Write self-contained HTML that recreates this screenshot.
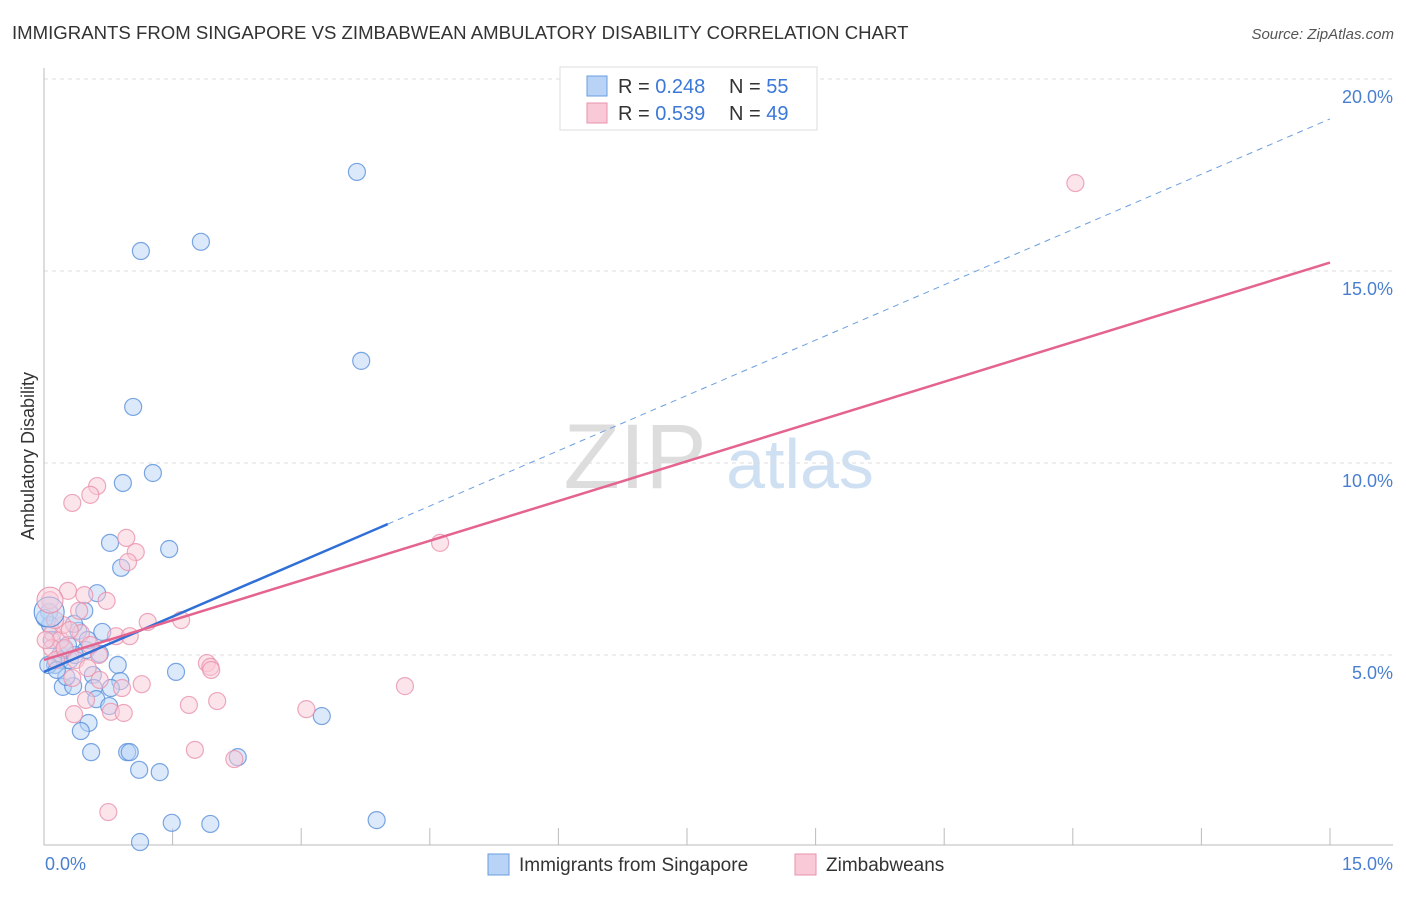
<!DOCTYPE html>
<html><head><meta charset="utf-8"><style>
body{margin:0;background:#fff;font-family:"Liberation Sans",sans-serif;}
svg text{font-family:"Liberation Sans",sans-serif;}
</style></head><body>
<svg width="1406" height="892">
<text x="12" y="39" font-size="18.6" fill="#333">IMMIGRANTS FROM SINGAPORE VS ZIMBABWEAN AMBULATORY DISABILITY CORRELATION CHART</text>
<text x="1394" y="39" font-size="15" fill="#555" text-anchor="end" font-style="italic">Source: ZipAtlas.com</text>
<text x="635" y="488" font-size="92" fill="#ddd" font-family="Liberation Serif" text-anchor="middle">ZIP</text>
<text x="800" y="488" font-size="70" fill="#cfe0f3" text-anchor="middle">atlas</text>
<g id="grid"></g><g id="axes"></g><g id="marks"></g><g id="lines"></g>
<text x="34" y="456" font-size="18" fill="#333" text-anchor="middle" transform="rotate(-90 34 456)">Ambulatory Disability</text>
<text x="45" y="870" font-size="18" fill="#4a7fd0">0.0%</text>
<text x="1393" y="870" font-size="18" fill="#4a7fd0" text-anchor="end">15.0%</text>
<g>
<rect x="560" y="67" width="257" height="63" fill="#fff" stroke="#ddd"/>
<rect x="587" y="76" width="20" height="20" fill="#b8d3f5" stroke="#6a9ee0"/>
<rect x="587" y="103" width="20" height="20" fill="#f9c9d8" stroke="#e993ae"/>
<text x="618" y="93" font-size="20" fill="#333">R = <tspan fill="#3b78d8">0.248</tspan></text>
<text x="729" y="93" font-size="20" fill="#333">N = <tspan fill="#3b78d8">55</tspan></text>
<text x="618" y="120" font-size="20" fill="#333">R = <tspan fill="#3b78d8">0.539</tspan></text>
<text x="729" y="120" font-size="20" fill="#333">N = <tspan fill="#3b78d8">49</tspan></text>
</g>
<g>
<rect x="488" y="854" width="21" height="21" fill="#b8d3f5" stroke="#6a9ee0"/>
<text x="519" y="871" font-size="19" fill="#333">Immigrants from Singapore</text>
<rect x="795" y="854" width="21" height="21" fill="#f9c9d8" stroke="#e993ae"/>
<text x="826" y="871" font-size="19" fill="#333">Zimbabweans</text>
</g>
</svg>
<script>
const yTicks=[5,10,15,20];
const yTickLabels=["5.0%","10.0%","15.0%","20.0%"];
const blueX=[3.65,1.13,1.83,3.70,1.04,1.27,0.92,0.77,1.46,0.90,0.62,0.47,0.40,0.68,0.35,0.49,0.65,0.19,0.13,0.86,1.54,0.57,0.89,0.22,0.34,0.58,0.78,0.61,0.76,3.24,0.52,0.43,0.55,0.97,1.00,1.11,1.35,2.26,1.49,1.94,3.88,1.12,0.06,0.07,0.09,0.19,0.24,0.30,0.05,0.26,0.15,0.36,0.51,0.01,0.28];
const blueY=[17.58,15.52,15.76,12.66,11.46,9.74,9.48,7.92,7.76,7.27,6.61,6.15,5.63,5.60,5.81,5.13,5.03,4.87,4.74,4.74,4.56,4.48,4.32,4.17,4.19,4.14,4.14,3.85,3.67,3.41,3.23,3.02,2.47,2.47,2.47,2.01,1.95,2.34,0.63,0.60,0.70,0.13,6.12,5.78,5.39,5.0,5.13,4.87,4.74,4.43,4.61,5.0,5.39,5.96,5.26];
const pinkX=[12.03,0.33,0.62,0.54,0.96,1.07,0.98,0.28,0.47,0.73,1.21,1.60,0.41,0.10,0.43,0.84,1.00,0.07,0.19,0.09,0.37,0.64,1.90,1.94,1.95,4.62,4.21,1.14,0.91,0.33,0.49,1.69,2.02,3.06,0.78,0.93,0.35,1.76,2.22,0.75,0.14,0.24,0.51,0.22,0.02,0.30,0.13,0.54,0.65];
const pinkY=[17.29,8.96,9.40,9.17,8.05,7.68,7.42,6.67,6.56,6.41,5.86,5.91,6.15,5.57,5.57,5.49,5.49,6.43,5.39,5.18,4.87,5.0,4.79,4.69,4.61,7.92,4.19,4.24,4.14,4.40,3.83,3.70,3.80,3.59,3.52,3.49,3.46,2.53,2.29,0.91,4.87,5.18,4.66,5.78,5.39,5.65,5.91,5.26,4.35];
const blueTrend=[4.56,0.96];
const pinkTrend=[4.87,0.69];
const NS="http://www.w3.org/2000/svg";
const sx=v=>44+v/15*1286;
const sy=v=>847-v*38.4;
function mk(tag,attrs,parent){const e=document.createElementNS(NS,tag);for(const k in attrs)e.setAttribute(k,attrs[k]);document.getElementById(parent).appendChild(e);return e;}
yTicks.forEach((t,i)=>{
 const g=mk('line',{x1:44,x2:1393,y1:sy(t),y2:sy(t),stroke:'#ddd','stroke-dasharray':'4,4'},'grid');
 
 
 const l=mk('text',{x:1393,y:sy(t)+24,'font-size':18,fill:'#4a7fd0','text-anchor':'end'},'grid');
 l.textContent=yTickLabels[i];
 
 
});
const ya=mk('line',{x1:44,x2:44,y1:68,y2:845,stroke:'#bbb'},'axes');


const xa=mk('line',{x1:44,x2:1393,y1:845,y2:845,stroke:'#bbb'},'axes');


for(let i=1;i<=10;i++){
 const t=mk('line',{x1:sx(i*1.5),x2:sx(i*1.5),y1:828,y2:845,stroke:'#bbb'},'axes');
 
 
}
function pts(xs,ys,fill,stroke,name){
 xs.forEach((x,i)=>{
  const c=mk('circle',{cx:sx(x),cy:sy(ys[i]),r:8.5,fill:fill,'fill-opacity':0.5,stroke:stroke,'stroke-opacity':0.8,'stroke-width':1.2},'marks');
  
  
 });
}
pts(blueX,blueY,'#b8d3f5','#5a90dc','point-singapore');
pts(pinkX,pinkY,'#f9c9d8','#e993ae','point-zimbabwean');
const b1=mk('circle',{cx:sx(blueX[42]),cy:sy(blueY[42]),r:15,fill:'#b8d3f5','fill-opacity':0.5,stroke:'#5a90dc'},'marks');


const p1=mk('circle',{cx:sx(pinkX[17]),cy:sy(pinkY[17]),r:13,fill:'#f9c9d8','fill-opacity':0.5,stroke:'#e993ae'},'marks');


const bx=4.01;
const bl=mk('line',{x1:sx(0),y1:sy(blueTrend[0]),x2:sx(bx),y2:sy(blueTrend[0]+blueTrend[1]*bx),stroke:'#2f6fd6','stroke-width':2.5},'lines');


const bd=mk('line',{x1:sx(bx),y1:sy(blueTrend[0]+blueTrend[1]*bx),x2:sx(15),y2:sy(blueTrend[0]+blueTrend[1]*15),stroke:'#6a9ee0','stroke-width':1,'stroke-dasharray':'6,5'},'lines');


const pl=mk('line',{x1:sx(0),y1:sy(pinkTrend[0]),x2:sx(15),y2:sy(pinkTrend[0]+pinkTrend[1]*15),stroke:'#e4648f','stroke-width':2.5},'lines');


</script>
</body></html>
